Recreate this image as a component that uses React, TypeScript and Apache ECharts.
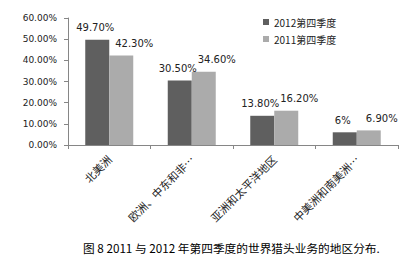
import React, { useEffect, useRef } from "react";
import * as echarts from "echarts";

const categories = ["北美洲", "欧洲、中东和非…", "亚洲和太平洋地区", "中美洲和南美洲…"];
const seriesNames = ["2012第四季度", "2011第四季度"];
const values2012 = [49.7, 30.5, 13.8, 6];
const values2011 = [42.3, 34.6, 16.2, 6.9];
const caption = "图 8 2011 与 2012 年第四季度的世界猎头业务的地区分布.";

const pctLabel = (v: number) => (Number.isInteger(v) ? `${v}%` : `${v.toFixed(2)}%`);

export default function App() {
  const ref = useRef<HTMLDivElement>(null);
  useEffect(() => {
    if (!ref.current) return;
    const chart = echarts.init(ref.current, undefined, { renderer: "svg" });
    const sans = "DejaVu Sans";
    const cjk = "Noto Sans CJK SC";
    chart.setOption({
      animation: false,
      backgroundColor: "#ffffff",
      grid: { left: 68, right: 12, top: 18, bottom: 121, containLabel: false },
      legend: {
        orient: "vertical",
        left: 258,
        top: 12,
        icon: "rect",
        itemWidth: 6,
        itemHeight: 6,
        itemGap: 7,
        data: seriesNames,
        textStyle: { fontSize: 10, fontFamily: cjk, color: "#222" },
      },
      xAxis: {
        type: "category",
        data: categories,
        axisLine: { lineStyle: { color: "#868686" } },
        axisTick: { show: true, alignWithLabel: false, length: 4, lineStyle: { color: "#868686" } },
        axisLabel: {
          rotate: 45,
          interval: 0,
          margin: 12,
          fontSize: 11,
          fontFamily: cjk,
          color: "#222",
        },
      },
      yAxis: {
        type: "value",
        min: 0,
        max: 60,
        interval: 10,
        splitLine: { show: false },
        axisLine: { show: true, lineStyle: { color: "#868686" } },
        axisTick: { show: true, length: 4, lineStyle: { color: "#868686" } },
        axisLabel: {
          formatter: (v: number) => `${v.toFixed(2)}%`,
          fontSize: 9,
          fontFamily: sans,
          color: "#222",
          margin: 11,
        },
      },
      series: [
        {
          name: seriesNames[0],
          type: "bar",
          data: values2012,
          barWidth: 24,
          barGap: "0%",
          itemStyle: { color: "#5f5f5f" },
          label: {
            show: true,
            position: "top",
            distance: 7,
            offset: [-2, 0],
            fontSize: 10,
            fontFamily: sans,
            color: "#222",
            formatter: (p: any) => pctLabel(p.value),
          },
        },
        {
          name: seriesNames[1],
          type: "bar",
          data: values2011,
          barWidth: 24,
          barGap: "0%",
          itemStyle: { color: "#ababab" },
          label: {
            show: true,
            position: "top",
            distance: 7,
            offset: [13, 0],
            fontSize: 10,
            fontFamily: sans,
            color: "#222",
            formatter: (p: any) => pctLabel(p.value),
          },
        },
      ],
      graphic: [
        {
          type: "text",
          left: 83,
          top: 242,
          style: { text: caption, fontSize: 11.7, fontFamily: cjk, fill: "#000" },
        },
      ],
    });
    return () => chart.dispose();
  }, []);
  return (
    <div
      ref={ref}
      style={{ position: "fixed", left: 0, top: 0, width: 410, height: 266 }}
    />
  );
}
